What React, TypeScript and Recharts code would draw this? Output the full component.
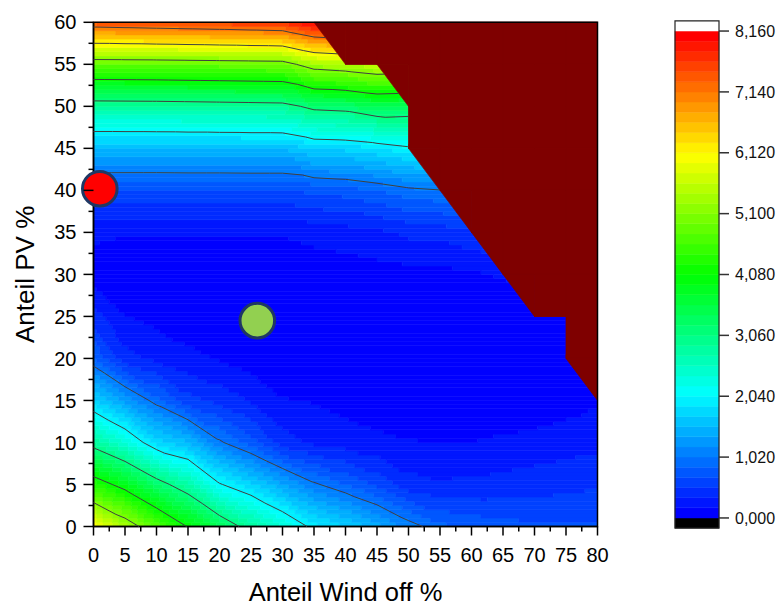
import React from 'react';
import { ComposedChart, XAxis, YAxis, ReferenceArea, Scatter, Label } from 'recharts';

// ---------------- data ----------------
const windOffShare = [0, 5, 10, 15, 20, 25, 30, 35, 40, 45, 50, 55, 60, 65, 70, 75, 80];
const pvShare = [0, 5, 10, 15, 20, 25, 30, 35, 40, 45, 50, 55, 60];

// value (colour scale units) per PV row, one entry per wind-off column; null = no result
const valuesPv0 = [6.08, 5.4, 4.72, 4.05, 3.41, 2.85, 2.395, 1.94, 1.7, 1.425, 1.12, 0.9, 0.8, 0.74, 0.72, 0.71, 0.7];
const valuesPv5 = [4.36, 3.89, 3.264, 2.77, 2.07, 1.76, 1.39, 1.06, 0.85, 0.64, 0.41, 0.36, 0.38, 0.4, 0.43, 0.46, 0.49];
const valuesPv10 = [2.87, 2.38, 1.79, 1.55, 1.06, 0.76, 0.42, 0.3, 0.25, 0.21, 0.18, 0.17, 0.17, 0.2, 0.23, 0.26, 0.28];
const valuesPv15 = [1.74, 1.32, 0.925, 0.57, 0.45, 0.33, 0.18, 0.16, 0.11, 0.07, 0.04, 0.015, 0.02, 0.02, 0.05, 0.1, 0.15];
const valuesPv20 = [0.86, 0.4, 0.3, 0.21, 0.16, 0.08, 0.06, 0.04, 0.03, 0.015, 0.005, 0, 0, 0, 0.005, 0.015, null];
const valuesPv25 = [0.42, 0.18, 0.12, 0.08, 0.06, 0.03, 0.02, 0.02, 0.015, 0.015, 0.02, 0.02, 0.03, 0.04, 0.06, 0.09, null];
const valuesPv30 = [0.08, 0.03, 0.03, 0.03, 0.025, 0.02, 0.02, 0.064, 0.08, 0.1, 0.12, 0.12, 0.14, 0.19, null, null, null];
const valuesPv35 = [0.215, 0.185, 0.185, 0.185, 0.185, 0.185, 0.185, 0.23, 0.26, 0.3, 0.38, 0.4, 0.48, null, null, null, null];
const valuesPv40 = [0.65, 0.65, 0.65, 0.655, 0.655, 0.66, 0.66, 0.72, 0.76, 0.85, 0.96, 1.01, null, null, null, null, null];
const valuesPv45 = [1.53, 1.53, 1.53, 1.535, 1.535, 1.54, 1.54, 1.72, 1.75, 1.85, 1.98, null, null, null, null, null, null];
const valuesPv50 = [2.8, 2.81, 2.82, 2.84, 2.86, 2.88, 2.9, 3.18, 3.23, 3.44, 3.4, null, null, null, null, null, null];
const valuesPv55 = [4.8, 4.81, 4.82, 4.84, 4.86, 4.88, 4.9, 5.355, 5.46, 5.62, null, null, null, null, null, null, null];
const valuesPv60 = [7.44, 7.48, 7.52, 7.56, 7.6, 7.65, 7.7, 8.1, null, null, null, null, null, null, null, null, null];

const valueRows: (number | null)[][] = [
  valuesPv0, valuesPv5, valuesPv10, valuesPv15, valuesPv20, valuesPv25, valuesPv30,
  valuesPv35, valuesPv40, valuesPv45, valuesPv50, valuesPv55, valuesPv60,
];

const colorScaleTicks = [0, 1.02, 2.04, 3.06, 4.08, 5.1, 6.12, 7.14, 8.16];
const contourLevels = [1.02, 2.04, 3.06, 4.08, 5.1, 6.12, 7.14];
const bandStep = 0.17;
const bandCount = 48;

const xTickValues = [0, 5, 10, 15, 20, 25, 30, 35, 40, 45, 50, 55, 60, 65, 70, 75, 80];
const yTickValues = [0, 5, 10, 15, 20, 25, 30, 35, 40, 45, 50, 55, 60];

const redScenario = [{ x: 1, y: 40.2 }];
const greenScenario = [{ x: 26, y: 24.5 }];

// ---------------- styles ----------------
const FONT = '"Liberation Sans", Arial, Helvetica, sans-serif';
const MISSING = '#7f0000';
const paletteStops = [
  [0, 0, 255],
  [0, 255, 255],
  [0, 255, 0],
  [255, 255, 0],
  [255, 0, 0],
];

function palette(t: number) {
  const n = paletteStops.length;
  const s = Math.max(0, Math.min(1, t)) * (n - 1);
  const k = Math.min(Math.floor(s), n - 2);
  const f = s - k;
  const a = paletteStops[k];
  const b = paletteStops[k + 1];
  const c = a.map((v, i) => Math.round(v + (b[i] - v) * f));
  return `rgb(${c[0]},${c[1]},${c[2]})`;
}

function bandColor(v: number | null) {
  if (v == null) return MISSING;
  if (v < 0) return '#000000';
  const b = Math.floor(v / bandStep + 1e-9);
  if (b >= bandCount) return '#ffffff';
  return palette(b / (bandCount - 1));
}

// ---------------- field helpers ----------------
function nodeValue(i: number, j: number): number | null {
  const row = valueRows[j];
  if (!row) return null;
  const v = row[i];
  return v == null ? null : v;
}

function cellIndex(arr: number[], v: number) {
  for (let i = 0; i < arr.length - 2; i++) if (v < arr[i + 1]) return i;
  return arr.length - 2;
}

// linear interpolation on the triangulated grid (diagonal top-left to bottom-right).
// Inside a half-missing cell the valid triangle's plane is continued (hidden below the no-result mask).
function valueAt(x: number, y: number): number | null {
  const i = cellIndex(windOffShare, x);
  const j = cellIndex(pvShare, y);
  const u = (x - windOffShare[i]) / (windOffShare[i + 1] - windOffShare[i]);
  const w = (y - pvShare[j]) / (pvShare[j + 1] - pvShare[j]);
  const v00 = nodeValue(i, j);
  const v10 = nodeValue(i + 1, j);
  const v01 = nodeValue(i, j + 1);
  const v11 = nodeValue(i + 1, j + 1);
  const lowerOk = v00 != null && v10 != null && v01 != null;
  const upperOk = v11 != null && v10 != null && v01 != null;
  const lower = () => (v00 as number) + u * ((v10 as number) - (v00 as number)) + w * ((v01 as number) - (v00 as number));
  const upper = () => (v11 as number) + (1 - u) * ((v01 as number) - (v11 as number)) + (1 - w) * ((v10 as number) - (v11 as number));
  if (u + w <= 1) {
    if (lowerOk) return lower();
    if (upperOk) return upper();
    return null;
  }
  if (upperOk) return upper();
  if (lowerOk) return lower();
  return null;
}

type Cell = { x1: number; x2: number; y1: number; y2: number; fill: string };

function buildField(sub: number): Cell[] {
  const x0 = windOffShare[0];
  const y0 = pvShare[0];
  const nx = Math.round((windOffShare[windOffShare.length - 1] - x0) / sub);
  const ny = Math.round((pvShare[pvShare.length - 1] - y0) / sub);
  const open = new Map<string, Cell>();
  const out: Cell[] = [];
  for (let r = 0; r < ny; r++) {
    const y1 = y0 + r * sub;
    const y2 = y1 + sub;
    const yc = y1 + sub / 2;
    const runs: [number, number, string][] = [];
    let start = 0;
    let cur = bandColor(valueAt(x0 + 0.5 * sub, yc));
    for (let c = 1; c <= nx; c++) {
      const col = c < nx ? bandColor(valueAt(x0 + (c + 0.5) * sub, yc)) : '__end__';
      if (col !== cur) {
        runs.push([start, c, cur]);
        start = c;
        cur = col;
      }
    }
    for (const [s, e, fill] of runs) {
      const key = `${s}|${e}|${fill}`;
      const prev = open.get(key);
      if (prev && Math.abs(prev.y2 - y1) < 1e-9) {
        prev.y2 = y2;
      } else {
        const cell = { x1: x0 + s * sub, x2: x0 + e * sub, y1, y2, fill };
        out.push(cell);
        open.set(key, cell);
      }
    }
  }
  return out;
}

// grid cells (or triangles of them) without results
type Mask = { x1: number; x2: number; y1: number; y2: number; kind: 'full' | 'upper' | 'lower' };
function buildMask(): Mask[] {
  const out: Mask[] = [];
  for (let j = 0; j < pvShare.length - 1; j++) {
    for (let i = 0; i < windOffShare.length - 1; i++) {
      const v00 = nodeValue(i, j);
      const v10 = nodeValue(i + 1, j);
      const v01 = nodeValue(i, j + 1);
      const v11 = nodeValue(i + 1, j + 1);
      const lowerOk = v00 != null && v10 != null && v01 != null;
      const upperOk = v11 != null && v10 != null && v01 != null;
      if (lowerOk && upperOk) continue;
      const kind = !lowerOk && !upperOk ? 'full' : !upperOk ? 'upper' : 'lower';
      out.push({ x1: windOffShare[i], x2: windOffShare[i + 1], y1: pvShare[j], y2: pvShare[j + 1], kind });
    }
  }
  return out;
}

type Pt = { x: number; y: number };

function contourLines(level: number): Pt[][] {
  const nx = windOffShare.length;
  const ny = pvShare.length;
  const points = new Map<string, Pt>();
  const segs: [string, string][] = [];
  const edgePoint = (a: number[], b: number[]) => {
    const ida = a[1] * nx + a[0];
    const idb = b[1] * nx + b[0];
    const p = ida < idb ? a : b;
    const q = ida < idb ? b : a;
    const key = `${Math.min(ida, idb)}-${Math.max(ida, idb)}`;
    if (!points.has(key)) {
      const vp = nodeValue(p[0], p[1]) as number;
      const vq = nodeValue(q[0], q[1]) as number;
      const t = (level - vp) / (vq - vp);
      points.set(key, {
        x: windOffShare[p[0]] + t * (windOffShare[q[0]] - windOffShare[p[0]]),
        y: pvShare[p[1]] + t * (pvShare[q[1]] - pvShare[p[1]]),
      });
    }
    return key;
  };
  for (let j = 0; j < ny - 1; j++) {
    for (let i = 0; i < nx - 1; i++) {
      const tris = [
        [[i, j], [i + 1, j], [i, j + 1]],
        [[i + 1, j + 1], [i + 1, j], [i, j + 1]],
      ];
      for (const tri of tris) {
        const vals = tri.map((n) => nodeValue(n[0], n[1]));
        if (vals.some((v) => v == null)) continue;
        const keys: string[] = [];
        for (const [a, b] of [[0, 1], [1, 2], [2, 0]]) {
          const va = vals[a] as number;
          const vb = vals[b] as number;
          if ((va >= level) !== (vb >= level)) keys.push(edgePoint(tri[a], tri[b]));
        }
        if (keys.length === 2) segs.push([keys[0], keys[1]]);
      }
    }
  }
  const adj = new Map<string, number[]>();
  segs.forEach((s, idx) => {
    for (const k of s) {
      if (!adj.has(k)) adj.set(k, []);
      (adj.get(k) as number[]).push(idx);
    }
  });
  const used = segs.map(() => false);
  const chains: Pt[][] = [];
  for (let s0 = 0; s0 < segs.length; s0++) {
    if (used[s0]) continue;
    used[s0] = true;
    const chain = [segs[s0][0], segs[s0][1]];
    const extend = (atEnd: boolean) => {
      for (;;) {
        const tail = atEnd ? chain[chain.length - 1] : chain[0];
        const next = (adj.get(tail) || []).find((ix) => !used[ix]);
        if (next === undefined) break;
        used[next] = true;
        const other = segs[next][0] === tail ? segs[next][1] : segs[next][0];
        if (atEnd) chain.push(other);
        else chain.unshift(other);
      }
    };
    extend(true);
    extend(false);
    chains.push(chain.map((k) => points.get(k) as Pt));
  }
  return chains;
}

const fieldCells = buildField(0.5);
const maskCells = buildMask();
const contourChains = contourLevels.flatMap((l) => contourLines(l));

const withMinor = (arr: number[]) =>
  arr.flatMap((v, i) => (i < arr.length - 1 ? [v, (v + arr[i + 1]) / 2] : [v]));
const xAxisTicks = withMinor(xTickValues);
const yAxisTicks = withMinor(yTickValues);

const isMajor = (v: number, majors: number[]) => majors.some((m) => Math.abs(m - v) < 1e-6);

const XTick = (props: any) => {
  const { x, y, payload } = props;
  const v = payload.value;
  const major = isMajor(v, xTickValues);
  return (
    <g>
      <line x1={x} y1={y} x2={x} y2={y + (major ? 9 : 5)} stroke="#000" strokeWidth={1.5} />
      {major && (
        <text x={x} y={y + 35.2} textAnchor="middle" fontSize={20} fill="#000" fontFamily={FONT}>
          {v}
        </text>
      )}
    </g>
  );
};

const YTick = (props: any) => {
  const { x, y, payload } = props;
  const v = payload.value;
  const major = isMajor(v, yTickValues);
  return (
    <g>
      <line x1={x} y1={y} x2={x - (major ? 10 : 5)} y2={y} stroke="#000" strokeWidth={1.5} />
      {major && (
        <text x={x - 17} y={y} dy="0.355em" textAnchor="end" fontSize={20} fill="#000" fontFamily={FONT}>
          {v}
        </text>
      )}
    </g>
  );
};

const NoDot = () => <g />;
const RedDot = (p: any) => (
  <circle cx={p.cx} cy={p.cy} r={17.3} fill="#ff0000" stroke="#1f3864" strokeWidth={3} />
);
const GreenDot = (p: any) => (
  <circle cx={p.cx} cy={p.cy} r={17.3} fill="#92d050" stroke="#1f3864" strokeWidth={3} />
);

// draws the missing part of a grid cell inside the rectangle Recharts computed for it
const maskShape = (kind: Mask['kind']) => (p: any) => {
  const { x, y, width, height } = p;
  const P = (u: number, w: number) => `${x + u * width},${y + (1 - w) * height}`;
  const pts =
    kind === 'full'
      ? [P(0, 0), P(1, 0), P(1, 1), P(0, 1)]
      : kind === 'upper'
        ? [P(1, 1), P(1, 0), P(0, 1)]
        : [P(0, 0), P(1, 0), P(0, 1)];
  return <polygon points={pts.join(' ')} fill={MISSING} stroke={MISSING} strokeWidth={0.7} />;
};

const colorBands = [
  { lo: -bandStep, hi: 0, fill: '#000000' },
  ...Array.from({ length: bandCount }, (_, b) => ({
    lo: b * bandStep,
    hi: (b + 1) * bandStep,
    fill: palette(b / (bandCount - 1)),
  })),
  { lo: bandCount * bandStep, hi: (bandCount + 1) * bandStep, fill: '#ffffff' },
];

const fmt = (v: number) => v.toFixed(3).replace('.', ',');

export default function App() {
  return (
    <div
      style={{
        position: 'absolute',
        left: 0,
        top: 0,
        width: 779,
        height: 605,
        background: '#fff',
        fontFamily: FONT,
      }}
    >
      <div style={{ position: 'absolute', left: 0, top: 0 }}>
        <ComposedChart width={779} height={605} margin={{ top: 22.3, right: 181.5, bottom: 0, left: 0 }}>
          <XAxis
            type="number"
            dataKey="x"
            domain={[0, 80]}
            ticks={xAxisTicks}
            interval={0}
            tickLine={false}
            tickSize={0}
            tickMargin={0}
            tick={<XTick />}
            axisLine={{ stroke: '#000', strokeWidth: 1.5 }}
            height={78.5}
          >
            <Label
              value="Anteil Wind off %"
              position="insideBottom"
              offset={4.5}
              style={{ fontSize: 25.5, fill: '#000', fontFamily: FONT }}
            />
          </XAxis>
          <YAxis
            type="number"
            dataKey="y"
            domain={[0, 60]}
            ticks={yAxisTicks}
            interval={0}
            tickLine={false}
            tickSize={0}
            tickMargin={0}
            tick={<YTick />}
            axisLine={{ stroke: '#000', strokeWidth: 1.5 }}
            width={93.5}
          >
            <Label
              value="Anteil PV %"
              position="insideLeft"
              angle={-90}
              offset={25}
              style={{ fontSize: 26, fill: '#000', fontFamily: FONT, textAnchor: 'middle' }}
            />
          </YAxis>
          {fieldCells.map((c, i) => (
            <ReferenceArea
              key={`f${i}`}
              x1={c.x1}
              x2={c.x2}
              y1={c.y1}
              y2={c.y2}
              fill={c.fill}
              fillOpacity={1}
              stroke={c.fill}
              strokeWidth={0.6}
              ifOverflow="visible"
            />
          ))}
          {maskCells.map((m, i) => (
            <ReferenceArea
              key={`m${i}`}
              x1={m.x1}
              x2={m.x2}
              y1={m.y1}
              y2={m.y2}
              fill={MISSING}
              fillOpacity={1}
              ifOverflow="visible"
              shape={maskShape(m.kind)}
            />
          ))}
          {contourChains.map((chain, i) => (
            <Scatter
              key={`c${i}`}
              data={chain}
              line={{ stroke: '#404040', strokeWidth: 1 }}
              lineType="joint"
              shape={NoDot}
              isAnimationActive={false}
            />
          ))}
          <ReferenceArea
            x1={0}
            x2={80}
            y1={0}
            y2={60}
            fill="none"
            fillOpacity={0}
            stroke="#000"
            strokeWidth={1.5}
            ifOverflow="visible"
          />
          <Scatter data={redScenario} shape={RedDot} isAnimationActive={false} />
          <Scatter data={greenScenario} shape={GreenDot} isAnimationActive={false} />
        </ComposedChart>
      </div>
      <div style={{ position: 'absolute', left: 660, top: 0 }}>
        <ComposedChart
          width={119}
          height={605}
          data={[{ x: 0, y: 0 }]}
          margin={{ top: 20.9, right: 0, bottom: 76.9, left: 15 }}
        >
          <XAxis type="number" dataKey="x" domain={[0, 1]} hide />
          <YAxis
            type="number"
            dataKey="y"
            orientation="right"
            domain={[-bandStep, (bandCount + 1) * bandStep]}
            ticks={colorScaleTicks}
            interval={0}
            width={60}
            tickSize={10}
            tickMargin={6}
            axisLine={false}
            tickLine={{ stroke: '#333', strokeWidth: 1.5 }}
            tick={{ fontSize: 16, fill: '#111', fontFamily: FONT }}
            tickFormatter={fmt}
          />
          {colorBands.map((b, i) => (
            <ReferenceArea
              key={`b${i}`}
              x1={0}
              x2={1}
              y1={b.lo}
              y2={b.hi}
              fill={b.fill}
              fillOpacity={1}
              stroke={b.fill}
              strokeWidth={0.5}
              ifOverflow="visible"
            />
          ))}
          <ReferenceArea
            x1={0}
            x2={1}
            y1={-bandStep}
            y2={(bandCount + 1) * bandStep}
            fill="none"
            fillOpacity={0}
            stroke="#222"
            strokeWidth={1.2}
            ifOverflow="visible"
          />
        </ComposedChart>
      </div>
    </div>
  );
}
